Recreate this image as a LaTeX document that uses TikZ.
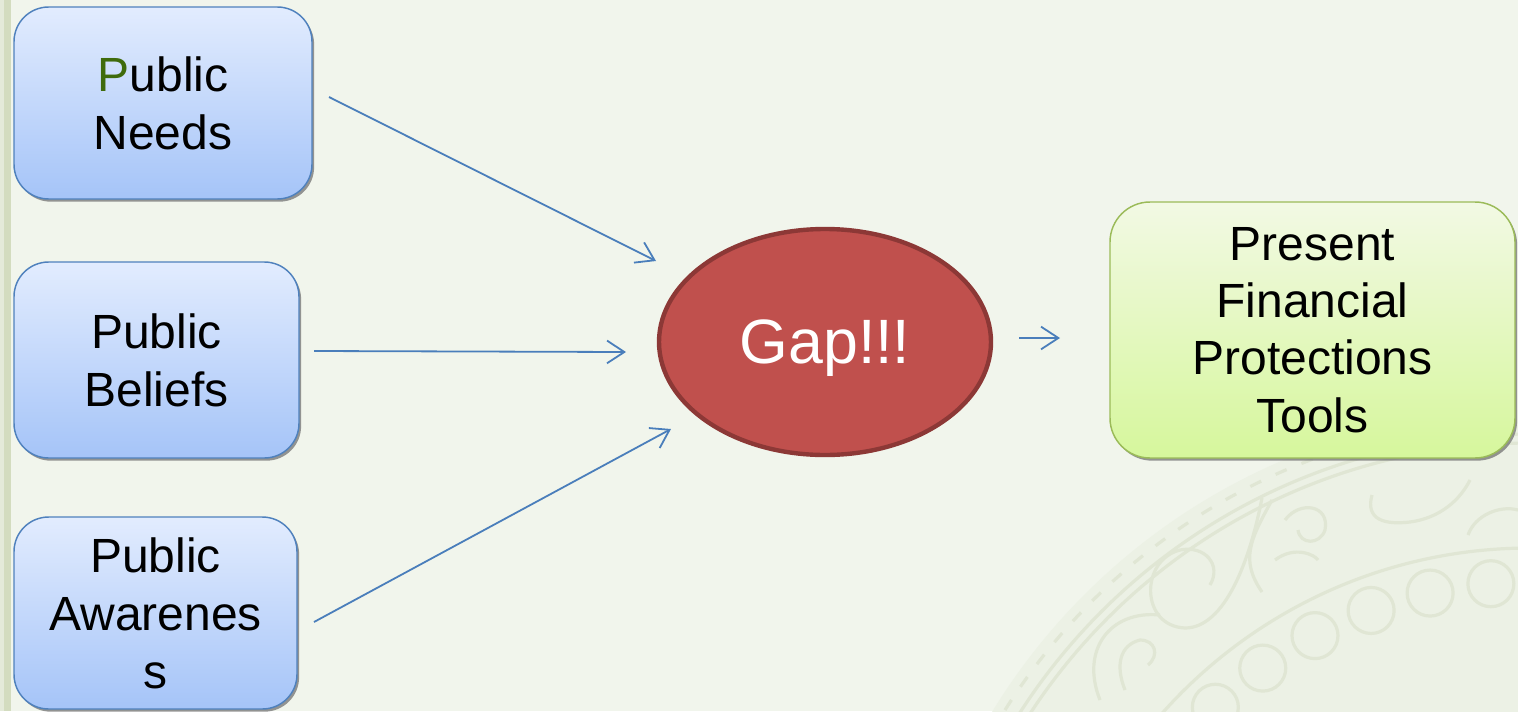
\documentclass[tikz,border=0pt]{standalone}
\usepackage{fontspec}
\setmainfont{Liberation Sans}
\usetikzlibrary{arrows.meta,shapes.geometric,shadows}
\definecolor{bg}{HTML}{F1F5EC}
\definecolor{diskfill}{HTML}{ECF1E5}
\definecolor{deco}{HTML}{E0E6D4}
\definecolor{stripA}{HTML}{E4EAD9}
\definecolor{stripB}{HTML}{D3DCBF}
\definecolor{bluetop}{HTML}{E2ECFE}
\definecolor{bluebot}{HTML}{A5C4F8}
\definecolor{blueline}{HTML}{4F81BD}
\definecolor{greentop}{HTML}{F2F9E4}
\definecolor{greenbot}{HTML}{D6F79C}
\definecolor{greenline}{HTML}{9BBB59}
\definecolor{gapfill}{HTML}{C0504D}
\definecolor{gapline}{HTML}{8C3836}
\definecolor{pgreen}{HTML}{3F6B0C}
\definecolor{arrowblue}{HTML}{4A7EBB}
\tikzset{
  boxshadow/.style={drop shadow={shadow xshift=1.6pt, shadow yshift=-2pt, opacity=0.75, fill=black!55}},
  inbox/.style={rectangle, rounded corners=26pt, draw=blueline, line width=1.1pt,
    top color=bluetop, bottom color=bluebot, align=center, inner sep=0pt,
    font=\fontsize{36pt}{43.5pt}\selectfont, boxshadow},
  outbox/.style={rectangle, rounded corners=30pt, draw=greenline, line width=1.1pt,
    top color=greentop, bottom color=greenbot, align=center, inner sep=0pt,
    font=\fontsize{36pt}{43pt}\selectfont, boxshadow},
  gapnode/.style={ellipse, draw=gapline, fill=gapfill, line width=3.3pt, inner sep=0pt,
    text=white, text depth=0pt, font=\fontsize{47pt}{56pt}\selectfont},
  arr/.style={draw=arrowblue, line width=1.35pt, -{Straight Barb[length=13pt,width=17pt,line width=1.35pt]}},
  decoline/.style={draw=deco, line width=2.4pt},
}
\begin{document}
\begin{tikzpicture}[x=0.75pt,y=-0.75pt]
\useasboundingbox (0,0) rectangle (1518,711);
\fill[bg] (0,0) rectangle (1518,711);
% left strip
\fill[stripA] (0,0) rectangle (4,711);
\fill[stripB] (4,0) rectangle (11,711);
% background ornament
\begin{scope}
  \clip (0,0) rectangle (1518,711);
  \fill[diskfill] (1530,1040) circle (630);
  \draw[decoline, dash pattern=on 9pt off 12pt] (1530,1040) circle (620);
  \draw[decoline] (1530,1040) circle (606);
  \draw[decoline] (1530,1040) circle (597);
  \draw[decoline] (1530,1040) circle (492);
  \foreach \a in {94.9,102.6,110.3,118.0,125.7,133.4,141.1}
    \draw[decoline] ({1530+458*cos(\a)},{1040-458*sin(\a)}) circle (23);
  % paisley swirls
  \draw[decoline] (1262,498) .. controls (1250,560) and (1225,628) .. (1185,628)
     .. controls (1140,626) and (1140,560) .. (1180,550)
     .. controls (1205,545) and (1222,565) .. (1210,585);
  \draw[decoline] (1272,500) .. controls (1250,540) and (1240,560) .. (1262,592);
  \draw[decoline] (1285,520) .. controls (1300,500) and (1330,505) .. (1325,530)
     .. controls (1320,545) and (1300,545) .. (1298,530);
  \draw[decoline] (1275,560) .. controls (1295,545) and (1315,555) .. (1318,560);
  \draw[decoline] (1372,495) .. controls (1365,520) and (1385,525) .. (1410,522)
     .. controls (1440,518) and (1460,500) .. (1470,480);
  \draw[decoline] (1468,535) .. controls (1475,515) and (1500,505) .. (1518,510);
  \draw[decoline] (1100,700) .. controls (1080,650) and (1110,610) .. (1160,615);
  \draw[decoline] (1125,690) .. controls (1115,665) and (1120,645) .. (1140,640)
     .. controls (1155,640) and (1160,655) .. (1148,665);
\end{scope}
% nodes
\node[inbox, minimum width=223.5pt, minimum height=144pt] (needs) at (163,103)
  {\textcolor{pgreen}{P}ublic\\Needs};
\node[inbox, minimum width=213.75pt, minimum height=147pt] (beliefs) at (156.5,360)
  {Public\\Beliefs};
\node[inbox, minimum width=212.25pt, minimum height=144pt] (aware) at (155.5,613)
  {Public\\Awarenes\\s};
\node[outbox, minimum width=303.75pt, minimum height=192pt] (tools) at (1312.5,330)
  {Present\\Financial\\Protections\\Tools};
\node[gapnode, minimum width=249pt, minimum height=169.5pt] (gap) at (825,342) {Gap!!!};
% connectors (free floating)
\coordinate (a1s) at (329,97);
\coordinate (a1e) at (656,261);
\coordinate (a2s) at (314,351);
\coordinate (a2e) at (626,352);
\coordinate (a3s) at (314,622);
\coordinate (a3e) at (671,429);
\coordinate (a4s) at (1019,338);
\coordinate (a4e) at (1060,338);
\draw[arr] (a1s) -- (a1e);
\draw[arr] (a2s) -- (a2e);
\draw[arr] (a3s) -- (a3e);
\draw[arr] (a4s) -- (a4e);
\end{tikzpicture}
\end{document}
